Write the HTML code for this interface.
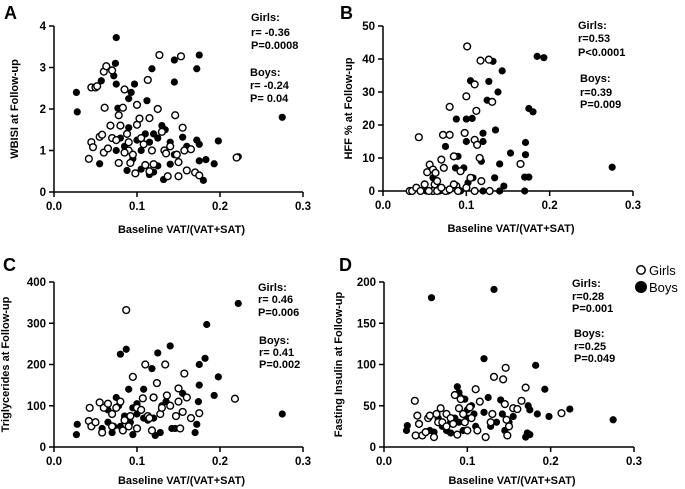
<!DOCTYPE html>
<html><head><meta charset="utf-8"><style>
body{margin:0;background:#fff;}
svg{display:block;font-family:"Liberation Sans",Arial,sans-serif;font-weight:bold;}
</style></head><body>
<svg id="chart" width="685" height="489" viewBox="0 0 685 489"></svg>
<script>
const xTicks=[0.0,0.1,0.2,0.3];
const xTickLabels=["0.0","0.1","0.2","0.3"];
const aTicks=[0,1,2,3,4];
const bTicks=[0,10,20,30,40,50];
const cTicks=[0,100,200,300,400];
const dTicks=[0,50,100,150,200];
const aGirls=[[0.042,0.8],[0.045,1.2],[0.047,1.08],[0.045,2.52],[0.05,2.52],[0.052,2.55],[0.06,2.9],[0.063,3.03],[0.07,2.93],[0.055,1.33],[0.058,1.38],[0.06,0.95],[0.065,1.05],[0.061,2.03],[0.068,1.6],[0.07,1.3],[0.075,1.25],[0.078,1.85],[0.08,1.6],[0.078,0.7],[0.083,2.03],[0.085,2.47],[0.088,1.4],[0.09,1.0],[0.092,0.7],[0.095,0.9],[0.098,0.45],[0.1,2.1],[0.1,1.62],[0.103,1.77],[0.108,1.15],[0.11,0.65],[0.115,0.5],[0.115,1.78],[0.118,1.0],[0.12,0.67],[0.113,2.7],[0.125,2.0],[0.127,3.3],[0.133,1.0],[0.135,0.93],[0.137,0.38],[0.14,1.1],[0.15,0.38],[0.15,0.72],[0.148,0.9],[0.146,1.85],[0.155,1.55],[0.153,3.27],[0.157,1.0],[0.16,0.52],[0.165,1.03],[0.17,0.47],[0.175,0.4],[0.22,0.83],[0.13,1.45],[0.105,1.3],[0.09,1.2],[0.085,0.95]];
const aBoys=[[0.075,3.72],[0.074,3.1],[0.027,2.4],[0.028,1.93],[0.057,2.68],[0.072,2.8],[0.075,2.6],[0.097,2.6],[0.093,2.4],[0.09,2.25],[0.118,2.97],[0.145,3.18],[0.145,2.65],[0.172,2.97],[0.175,3.3],[0.112,2.2],[0.077,2.02],[0.275,1.8],[0.198,1.23],[0.172,1.25],[0.175,1.15],[0.055,0.68],[0.088,0.52],[0.115,0.42],[0.12,0.48],[0.125,0.63],[0.132,0.3],[0.14,0.67],[0.18,0.28],[0.193,0.68],[0.175,0.75],[0.183,0.78],[0.222,0.85],[0.155,1.32],[0.13,1.6],[0.134,1.5],[0.12,1.4],[0.09,1.55],[0.1,1.25],[0.105,1.0],[0.085,1.1],[0.075,1.0],[0.14,1.2],[0.16,1.1],[0.11,1.4],[0.095,0.8],[0.125,1.3],[0.115,1.2],[0.08,1.3],[0.105,0.55],[0.145,0.9]];
const bGirls=[[0.043,16.3],[0.032,0],[0.035,0],[0.04,1],[0.045,0],[0.05,2],[0.053,5.7],[0.056,8],[0.06,6.5],[0.063,5.5],[0.062,2],[0.065,3],[0.07,9.5],[0.073,7],[0.072,17],[0.08,17],[0.08,25.5],[0.085,10.5],[0.088,1.5],[0.09,0],[0.093,6],[0.098,17.6],[0.1,28.7],[0.101,43.8],[0.11,32.3],[0.112,24.3],[0.11,15.5],[0.113,14],[0.116,10],[0.117,39.5],[0.127,39.8],[0.131,27],[0.118,3],[0.11,0],[0.128,0],[0.165,8.2],[0.075,0],[0.06,0],[0.065,0],[0.08,0.5],[0.1,1],[0.105,4],[0.07,1],[0.055,0],[0.085,2]];
const bBoys=[[0.052,0],[0.058,0],[0.06,4],[0.065,0.5],[0.068,0],[0.075,13.5],[0.078,0],[0.087,7],[0.088,21.8],[0.09,10.5],[0.093,0],[0.097,7],[0.1,15],[0.1,21.8],[0.102,2.5],[0.105,33.4],[0.107,22],[0.108,4],[0.118,9],[0.12,17.5],[0.12,15],[0.127,33.2],[0.125,27.5],[0.132,39.3],[0.135,18.5],[0.134,4],[0.138,30],[0.14,8.2],[0.143,36.4],[0.145,1.5],[0.14,0],[0.12,0],[0.153,11.5],[0.17,0],[0.171,14.7],[0.171,11],[0.17,4.2],[0.175,4.2],[0.175,25],[0.18,24],[0.185,40.8],[0.193,40.4],[0.275,7.2],[0.08,0.5],[0.09,0.5]];
const cGirls=[[0.043,95],[0.042,63],[0.045,50],[0.05,60],[0.055,108],[0.06,95],[0.058,35],[0.065,105],[0.07,80],[0.075,95],[0.08,110],[0.085,65],[0.087,332],[0.09,50],[0.092,75],[0.095,170],[0.1,95],[0.105,90],[0.11,200],[0.113,75],[0.118,40],[0.12,120],[0.124,155],[0.128,80],[0.13,95],[0.134,200],[0.136,125],[0.14,100],[0.147,75],[0.15,142],[0.152,45],[0.15,110],[0.155,85],[0.157,178],[0.16,120],[0.165,70],[0.175,82],[0.218,117],[0.1,45],[0.083,40],[0.07,50],[0.12,120],[0.107,118],[0.115,70]];
const cBoys=[[0.027,30],[0.028,55],[0.058,45],[0.065,60],[0.07,35],[0.075,120],[0.08,225],[0.087,237],[0.09,140],[0.095,30],[0.1,105],[0.108,140],[0.113,65],[0.118,190],[0.122,28],[0.125,228],[0.128,35],[0.14,245],[0.142,45],[0.146,45],[0.155,130],[0.17,35],[0.172,55],[0.174,110],[0.175,150],[0.175,200],[0.182,215],[0.184,297],[0.193,125],[0.198,170],[0.222,348],[0.275,80],[0.078,100],[0.085,75],[0.092,60],[0.1,80],[0.108,70],[0.13,100],[0.12,70],[0.065,90],[0.072,50],[0.08,50],[0.095,95],[0.135,110]];
const dGirls=[[0.037,56],[0.038,14],[0.04,38],[0.042,28],[0.046,14],[0.05,18],[0.053,35],[0.055,38],[0.06,12],[0.063,40],[0.065,30],[0.068,47],[0.07,30],[0.075,40],[0.08,35],[0.083,28],[0.085,63],[0.088,15],[0.09,47],[0.092,58],[0.095,40],[0.1,20],[0.103,48],[0.105,35],[0.11,70],[0.112,20],[0.115,55],[0.122,12],[0.128,30],[0.13,40],[0.132,85],[0.143,82],[0.146,96],[0.145,52],[0.147,33],[0.148,14],[0.15,25],[0.155,47],[0.16,46],[0.165,56],[0.17,72],[0.213,41],[0.097,30],[0.075,25]];
const dBoys=[[0.027,20],[0.028,26],[0.055,20],[0.057,181],[0.06,18],[0.07,25],[0.075,20],[0.08,17],[0.085,35],[0.088,73],[0.09,66],[0.092,60],[0.097,58],[0.1,45],[0.105,50],[0.108,40],[0.12,107],[0.12,42],[0.125,60],[0.128,25],[0.132,191],[0.14,57],[0.142,40],[0.145,20],[0.15,30],[0.155,37],[0.17,12],[0.172,17],[0.173,50],[0.175,45],[0.175,15],[0.182,99],[0.184,40],[0.193,70],[0.198,37],[0.223,46],[0.275,33],[0.09,30],[0.095,20],[0.11,25],[0.065,35],[0.08,30],[0.1,35],[0.135,30]];

const svg=document.getElementById('chart');
const NS='http://www.w3.org/2000/svg';
function mk(tag,attrs,parent){const e=document.createElementNS(NS,tag);for(const k in attrs)e.setAttribute(k,attrs[k]);(parent||svg).appendChild(e);return e;}
function txt(s,attrs,parent){const t=mk('text',attrs,parent);t.textContent=s;return t;}

function panel(p){
  const g=mk('g',{});
  
  
  const xs=v=>p.x0+(v-0)/(0.3)*(p.x1-p.x0);
  const ymax=p.yTicks[p.yTicks.length-1];
  const ys=v=>p.y0-(v/ymax)*(p.y0-p.y1);
  const L=txt(p.id.toUpperCase(),{x:p.lx,y:p.ly,'font-size':18,fill:'#000'},g);
  
  
  const ya=mk('line',{x1:p.x0,y1:p.y0,x2:p.x0,y2:p.y1,stroke:'#000','stroke-width':1.5},g);
  
  
  const xa=mk('line',{x1:p.x0,y1:p.y0,x2:p.x1,y2:p.y0,stroke:'#000','stroke-width':1.5},g);
  
  
  p.yTicks.forEach(v=>{
    mk('line',{x1:p.x0-5,y1:ys(v),x2:p.x0,y2:ys(v),stroke:'#000','stroke-width':1.5},g);
    const t=txt(String(v),{x:p.x0-8,y:ys(v)+4,'font-size':11.5,'text-anchor':'end'},g);
    
    
  });
  xTicks.forEach((v,i)=>{
    mk('line',{x1:xs(v),y1:p.y0,x2:xs(v),y2:p.y0+5,stroke:'#000','stroke-width':1.5},g);
    const t=txt(xTickLabels[i],{x:xs(v),y:p.y0+18,'font-size':11.5,'text-anchor':'middle'},g);
    
    
  });
  const xt=txt('Baseline VAT/(VAT+SAT)',{x:(p.x0+p.x1)/2+3,y:p.y0+p.xtOff,'font-size':11,'text-anchor':'middle'},g);
  
  
  const yt=txt(p.ytitle,{x:0,y:0,'font-size':11,'text-anchor':'middle',transform:`translate(${p.ytx},${(p.y0+p.y1)/2}) rotate(-90)`},g);
  
  
  p.boys.forEach(d=>{
    const c=mk('circle',{cx:xs(d[0]),cy:ys(d[1]),r:3.6,fill:'#000'},g);
    
    
  });
  p.girls.forEach(d=>{
    const c=mk('circle',{cx:xs(d[0]),cy:ys(d[1]),r:3.4,fill:'#fff',stroke:'#000','stroke-width':1.4},g);
    
    
  });
  p.ann.forEach((s,i)=>{
    const t=txt(s,{x:i<3?p.ax:p.ax2,y:p.ay[i]+4,'font-size':11},g);
    
    
  });
}
panel({id:'a',x0:54,x1:303,y0:192,y1:26,yTicks:aTicks,lx:4,ly:19,ytitle:'WBISI at Follow-up',ytx:18,girls:aGirls,boys:aBoys,xtOff:41,
  ann:['Girls:','r= -0.36','P=0.0008','Boys:','r= -0.24','P= 0.04'],ax:251,ax2:250,ay:[17,32,45,72,85,98]});
panel({id:'b',x0:383,x1:633,y0:191,y1:26,yTicks:bTicks,lx:340,ly:19,ytitle:'HFF % at Follow-up',ytx:352,girls:bGirls,boys:bBoys,xtOff:41,
  ann:['Girls:','r=0.53','P<0.0001','Boys:','r=0.39','P=0.009'],ax:578,ax2:580,ay:[25,38,52,78,92,104]});
panel({id:'c',x0:54,x1:303,y0:447,y1:282,yTicks:cTicks,lx:3,ly:271,ytitle:'Triglycerides at Follow-up',ytx:9,girls:cGirls,boys:cBoys,xtOff:37,
  ann:['Girls:','r= 0.46','P=0.006','Boys:','r= 0.41','P=0.002'],ax:258,ax2:259,ay:[287,299,312,340,352,364]});
panel({id:'d',x0:384,x1:634,y0:447,y1:282,yTicks:dTicks,lx:339,ly:271,ytitle:'Fasting Insulin at Follow-up',ytx:342,girls:dGirls,boys:dBoys,xtOff:37,
  ann:['Girls:','r=0.28','P=0.001','Boys:','r=0.25','P=0.049'],ax:572,ax2:574,ay:[283,296,308,333,346,358]});

const lg=mk('g',{});


const l1=mk('circle',{cx:641,cy:270,r:4.2,fill:'#fff',stroke:'#000','stroke-width':1.5},lg);


const t1=txt('Girls',{x:649,y:275,'font-size':13,'font-weight':'normal'},lg);


const l2=mk('circle',{cx:641,cy:287,r:6,fill:'#000'},lg);


const t2=txt('Boys',{x:649,y:292,'font-size':13,'font-weight':'normal'},lg);


</script>
</body></html>
